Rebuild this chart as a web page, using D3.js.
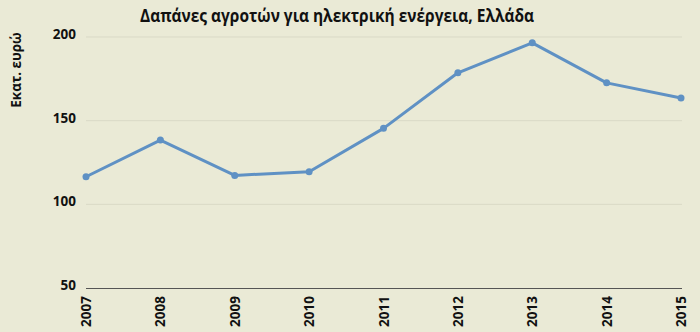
<!DOCTYPE html>
<html>
<head>
<meta charset="utf-8">
<script src="https://cdn.jsdelivr.net/npm/d3@7"></script>
<style>
  body { margin: 0; background: #eaead6; }
  svg text { font-family: "Open Sans", "DejaVu Sans", sans-serif; font-weight: bold; fill: #111; }
</style>
</head>
<body>
<div id="chart"></div>
<script>
const years = ['2007', '2008', '2009', '2010', '2011', '2012', '2013', '2014', '2015'];
const values = [116.5, 138.4, 117.3, 119.5, 145.4, 178.6, 196.5, 172.6, 163.5];
const yTicks = [50, 100, 150, 200];

const width = 700, height = 332;
const margin = { top: 37, right: 18, bottom: 44, left: 86 };

const svg = d3.select('#chart').append('svg')
  .attr('width', width)
  .attr('height', height);

svg.append('rect')
  .attr('width', width)
  .attr('height', height)
  .attr('fill', '#eaead6');

const x = d3.scalePoint()
  .domain(years)
  .range([margin.left, width - margin.right - 1]);

const y = d3.scaleLinear()
  .domain([50, 200])
  .range([height - margin.bottom, margin.top]);

// gridlines
svg.append('g')
  .selectAll('line')
  .data(yTicks.slice(1))
  .join('line')
  .attr('x1', margin.left)
  .attr('x2', width - margin.right)
  .attr('y1', d => y(d))
  .attr('y2', d => y(d))
  .attr('stroke', '#d9d9c6')
  .attr('stroke-width', 1);

// y axis labels
const yAxis = svg.append('g')
  .attr('transform', 'translate(' + (margin.left - 10) + ',0)')
  .call(d3.axisLeft(y).tickValues(yTicks).tickSize(0).tickPadding(0));
yAxis.select('.domain').remove();
yAxis.selectAll('text')
  .style('font-size', '13.5px')
  .style('font-family', '"Open Sans", sans-serif')
  .style('font-weight', 'bold')
  .attr('fill', '#111')
  .attr('dy', '0.1em');

// x axis line
svg.append('line')
  .attr('x1', margin.left)
  .attr('x2', width - margin.right)
  .attr('y1', y(50) + 0.5)
  .attr('y2', y(50) + 0.5)
  .attr('stroke', '#555')
  .attr('stroke-width', 1.2);

// x labels rotated
svg.append('g')
  .selectAll('text')
  .data(years)
  .join('text')
  .attr('transform', d => 'translate(' + (x(d) + 5) + ',' + (y(50) + 8) + ') rotate(-90)')
  .attr('text-anchor', 'end')
  .style('font-size', '13.5px')
  .text(d => d);

// line
const line = d3.line()
  .x((d, i) => x(years[i]))
  .y(d => y(d));

svg.append('path')
  .datum(values)
  .attr('d', line)
  .attr('fill', 'none')
  .attr('stroke', '#5f91c4')
  .attr('stroke-width', 3)
  .attr('stroke-linejoin', 'round');

svg.append('g')
  .selectAll('circle')
  .data(values)
  .join('circle')
  .attr('cx', (d, i) => x(years[i]))
  .attr('cy', d => y(d))
  .attr('r', 3.5)
  .attr('fill', '#5f91c4');

// title (condensed look via horizontal scaling)
svg.append('text')
  .attr('transform', 'translate(337,22) scale(0.86,1)')
  .attr('text-anchor', 'middle')
  .style('font-size', '18px')
  .text('Δαπάνες αγροτών για ηλεκτρική ενέργεια, Ελλάδα');

// y label
svg.append('text')
  .attr('transform', 'translate(21,70) rotate(-90)')
  .attr('text-anchor', 'middle')
  .style('font-size', '13.5px')
  .text('Εκατ. ευρώ');
</script>
</body>
</html>
